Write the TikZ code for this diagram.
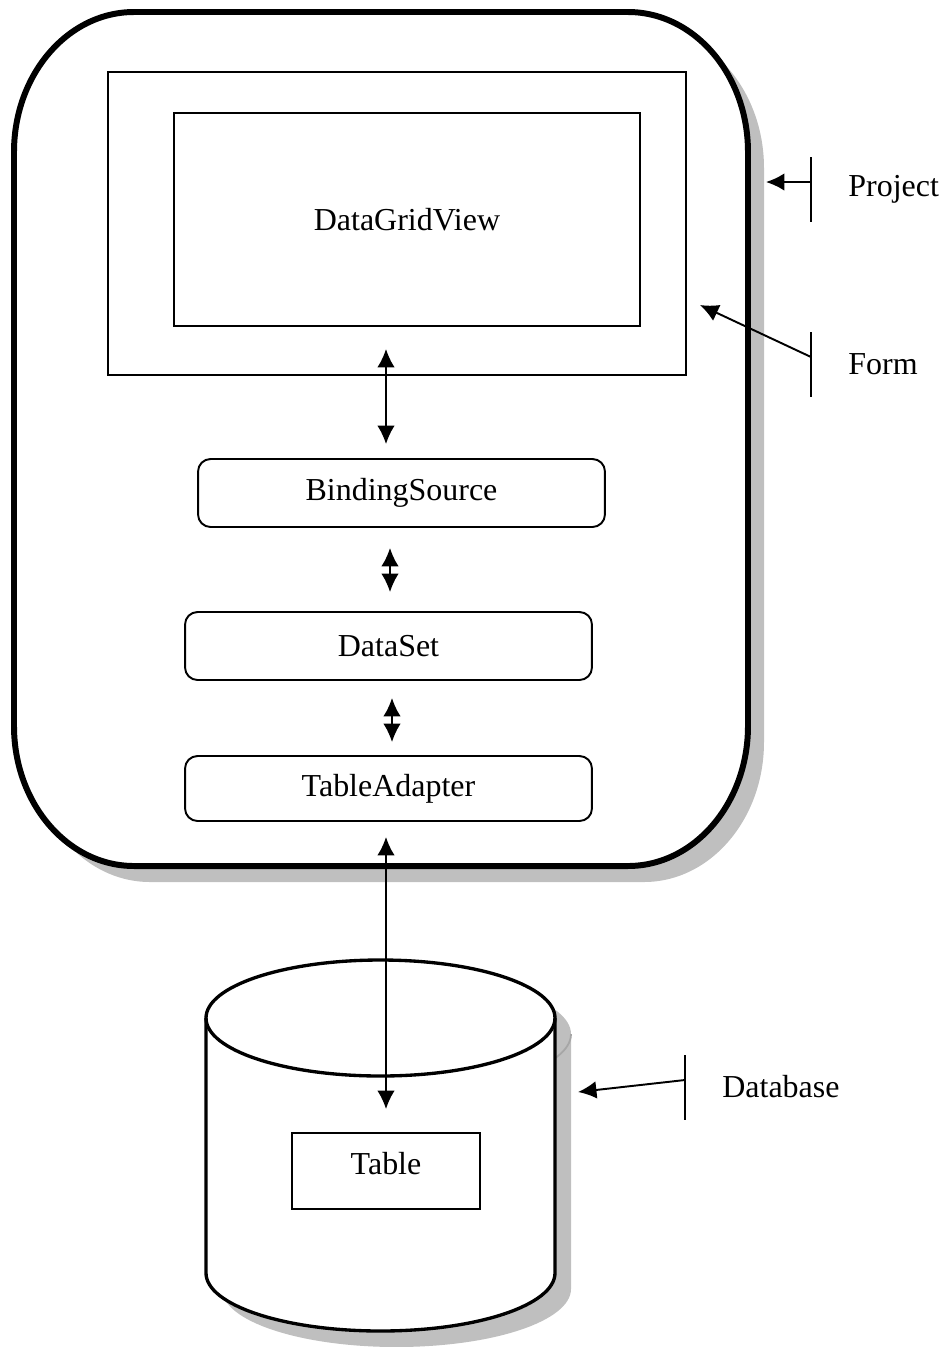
\documentclass[tikz,border=0pt]{standalone}
\usepackage{fontspec}
\setmainfont{Liberation Serif}
\usetikzlibrary{calc}
\usetikzlibrary{arrows.meta}

\begin{document}
\begin{tikzpicture}[x=0.02cm, y=-0.02cm, >={Latex[length=10.5pt,width=10pt]},
    txt/.style={font=\fontsize{18.2}{22}\selectfont, inner sep=0pt},
    box/.style={txt, rectangle, draw, line width=1.1pt, minimum width=#1},
    rbox/.style={box=8.14cm, rounded corners=0.25cm, fill=white},
    link/.style={line width=1.1pt, <->},
    call/.style={line width=1.1pt, ->},
    tick/.style={line width=1.1pt},
    shade/.style={fill=black!25},
    corner/.style={x radius=120, y radius=140},
  ]
\useasboundingbox (0,0) rectangle (944,1347);

% shadows
\begin{scope}[shift={(16,16)}]
  \fill[shade, corner] (14,152) arc[start angle=180, end angle=270]
    -- (628,12) arc[start angle=270, end angle=360]
    -- (748,726) arc[start angle=0, end angle=90]
    -- (134,866) arc[start angle=90, end angle=180] -- cycle;
  \fill[shade, x radius=174.5, y radius=58] (206,1018) -- (206,1273)
    arc[start angle=180, end angle=0] -- (555,1018)
    arc[start angle=0, end angle=-180] -- cycle;
  \draw[black!35, line width=1pt, x radius=174.5, y radius=58]
    (206,1018) arc[start angle=180, end angle=0];
\end{scope}

% project frame
\draw[line width=3.4pt, fill=white, corner] (14,152) arc[start angle=180, end angle=270]
  -- (628,12) arc[start angle=270, end angle=360]
  -- (748,726) arc[start angle=0, end angle=90]
  -- (134,866) arc[start angle=90, end angle=180] -- cycle;

% database cylinder
\draw[line width=1.9pt, fill=white, x radius=174.5, y radius=58] (206,1018) -- (206,1273)
  arc[start angle=180, end angle=0] -- (555,1018)
  arc[start angle=0, end angle=-180] -- cycle;
\draw[line width=1.9pt, x radius=174.5, y radius=58]
  (206,1018) arc[start angle=180, end angle=0];

% boxes
\node[box=11.56cm, minimum height=6.06cm] (frm) at (397,223.5) {};
\node[box=9.32cm, minimum height=4.26cm] (dgv) at (407,219.5) {DataGridView};
\node[rbox, minimum height=1.36cm] (bs) at (401.5,493) {BindingSource};
\node[rbox, minimum height=1.36cm] (ds) at (388.5,646) {DataSet};
\node[rbox, minimum height=1.3cm] (ta) at (388.5,788.5) {TableAdapter};
\node[box=3.76cm, minimum height=1.52cm, text depth=0.32cm] (tbl) at (386,1171) {Table};

% labels on the right
\node[txt, anchor=west] (prjlbl) at (848,189) {Project};
\node[txt, anchor=west] (frmlbl) at (848,364) {Form};
\node[txt, anchor=west] (dblbl) at (722,1087) {Database};
\coordinate (prjpt) at (766,182);
\coordinate (frmpt) at (700,305);
\coordinate (dbpt) at (578,1092);

\foreach \l/\p in {prjlbl/prjpt, frmlbl/frmpt, dblbl/dbpt} {
  \coordinate (tk) at ($(\l.west)+(-37,-7)$);
  \draw[tick] ($(tk)+(0,-25)$) -- ($(tk)+(0,40)$);
  \draw[call] (tk) -- (\p);
};

% links between the layers
\draw[link] ($(dgv.south)+(-21,22)$) -- ($(bs.north)+(-15.5,-14)$);
\draw[link] ($(bs.south)+(-11.5,20)$) -- ($(ds.north)+(1.5,-19)$);
\draw[link] ($(ds.south)+(3.5,17)$) -- ($(ta.north)+(3.5,-13)$);
\draw[link] ($(ta.south)+(-2.5,15)$) -- ($(tbl.north)+(0,-23)$);
\end{tikzpicture}
\end{document}
